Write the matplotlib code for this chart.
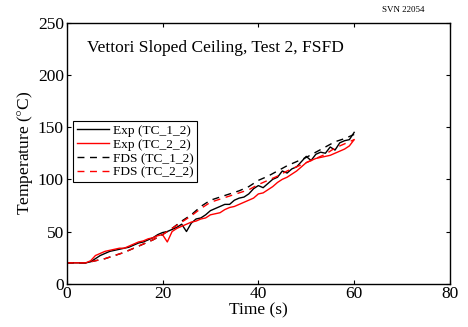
import matplotlib
matplotlib.use("Agg")
import matplotlib.pyplot as plt
import numpy as np

t_exp = list(range(0, 61))
exp_tc1 = [20, 20, 20, 20, 20, 21, 24, 27, 29, 31, 32, 33, 34, 35, 37, 39, 40, 42, 44, 47,
           49, 50, 52, 54, 57, 50, 58, 62, 63, 66, 70, 72, 74, 76, 76, 80, 82, 83, 86, 91,
           94, 92, 96, 100, 102, 108, 106, 110, 112, 117, 122, 118, 124, 126, 125, 131, 128, 135, 137, 138, 145]
exp_tc2 = [20, 20, 20, 20, 20, 22, 27, 29, 31, 32, 33, 34, 34, 36, 38, 40, 41, 43, 44, 46,
           47, 40, 50, 53, 55, 57, 59, 60, 62, 63, 66, 67, 68, 71, 73, 74, 76, 78, 80, 82,
           86, 87, 90, 93, 97, 100, 102, 105, 108, 112, 116, 118, 120, 121, 122, 123, 125, 127, 129, 132, 138]
t_fds = list(range(0, 61, 2))
fds_tc1 = [20, 20, 20, 22, 24, 27, 30, 34, 38, 42, 47, 53, 60, 66, 74, 80, 83, 86, 89, 93,
           99, 103, 108, 113, 117, 121, 126, 131, 136, 139, 143]
fds_tc2 = [20, 20, 20, 22, 24, 27, 30, 34, 38, 42, 47, 53, 59, 65, 72, 78, 81, 84, 87, 90,
           95, 99, 103, 108, 112, 116, 120, 124, 130, 134, 138]

plt.rcParams['font.family'] = ['Liberation Serif', 'DejaVu Serif']
plt.rcParams['mathtext.fontset'] = 'stix'

fig = plt.figure(figsize=(4.68, 3.27), dpi=100)
ax = fig.add_axes([0.1425, 0.1324, 0.819, 0.798])
ax.plot(t_exp, exp_tc1, color='black', lw=1.0, label='Exp (TC_1_2)')
ax.plot(t_exp, exp_tc2, color='red', lw=1.0, label='Exp (TC_2_2)')
ax.plot(t_fds, fds_tc1, color='black', lw=1.0, ls=(0, (5, 4)), label='FDS (TC_1_2)')
ax.plot(t_fds, fds_tc2, color='red', lw=1.0, ls=(0, (5, 4)), label='FDS (TC_2_2)')

ax.set_xlim(0, 80)
ax.set_ylim(0, 250)
ax.set_xticks([0, 20, 40, 60, 80])
ax.set_yticks([0, 50, 100, 150, 200, 250])
ax.tick_params(direction='in', top=True, right=True, labelsize=12.5, length=3, pad=2)
for s in ax.spines.values():
    s.set_linewidth(1.0)
ax.set_xlabel('Time (s)', fontsize=12.5, labelpad=0)
ax.set_ylabel('Temperature ($\\degree$C)', fontsize=12.5, labelpad=2)
ax.text(0.053, 0.934, 'Vettori Sloped Ceiling, Test 2, FSFD', transform=ax.transAxes,
        fontsize=12.5, va='top', ha='left')
fig.text(0.908, 0.969, 'SVN 22054', fontsize=6.5, ha='right', va='center')

leg = ax.legend(loc='upper left', bbox_to_anchor=(0.0, 0.648), fontsize=9.6,
                frameon=True, fancybox=False, edgecolor='black', framealpha=1,
                handlelength=2.4, handletextpad=0.3, borderpad=0.25, labelspacing=0.12,
                borderaxespad=0.5)
leg.get_frame().set_linewidth(0.8)

fig.savefig('out.png', dpi=100)
